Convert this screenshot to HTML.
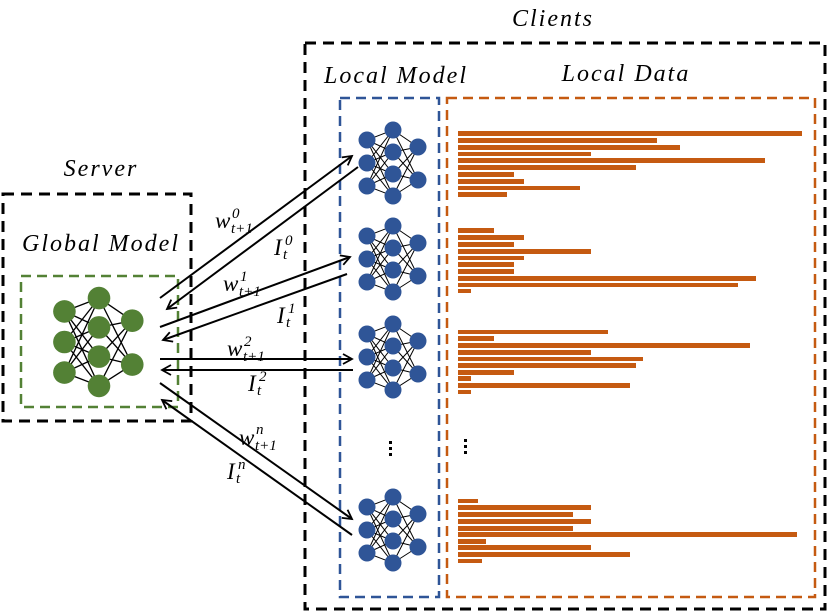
<!DOCTYPE html>
<html><head><meta charset="utf-8"><style>
html,body{margin:0;padding:0;background:#fff}
svg{display:block}
.lbl{font-family:"Liberation Serif",serif;font-style:italic;font-size:24px;letter-spacing:2px;fill:#000}
.m{font-family:"Liberation Serif",serif;font-style:italic;fill:#000}
</style></head><body>
<svg width="830" height="612" viewBox="0 0 830 612" xmlns="http://www.w3.org/2000/svg">
<defs>
<marker id="ah" markerWidth="12" markerHeight="12" refX="10" refY="6" orient="auto" markerUnits="userSpaceOnUse">
<path d="M1,1 L10,6 L1,11" fill="none" stroke="#000" stroke-width="1.8"/>
</marker>
<g id="net">
<g stroke="#000" stroke-width="1">
<line x1="-26" y1="-23" x2="0" y2="-33"/><line x1="-26" y1="-23" x2="0" y2="-11"/><line x1="-26" y1="-23" x2="0" y2="11"/><line x1="-26" y1="-23" x2="0" y2="33"/>
<line x1="-26" y1="0" x2="0" y2="-33"/><line x1="-26" y1="0" x2="0" y2="-11"/><line x1="-26" y1="0" x2="0" y2="11"/><line x1="-26" y1="0" x2="0" y2="33"/>
<line x1="-26" y1="23" x2="0" y2="-33"/><line x1="-26" y1="23" x2="0" y2="-11"/><line x1="-26" y1="23" x2="0" y2="11"/><line x1="-26" y1="23" x2="0" y2="33"/>
<line x1="0" y1="-33" x2="25" y2="-16"/><line x1="0" y1="-11" x2="25" y2="-16"/><line x1="0" y1="11" x2="25" y2="-16"/><line x1="0" y1="33" x2="25" y2="-16"/>
<line x1="0" y1="-33" x2="25" y2="17"/><line x1="0" y1="-11" x2="25" y2="17"/><line x1="0" y1="11" x2="25" y2="17"/><line x1="0" y1="33" x2="25" y2="17"/>
</g>
<circle cx="-26" cy="-23" r="8.5"/><circle cx="-26" cy="0" r="8.5"/><circle cx="-26" cy="23" r="8.5"/>
<circle cx="0" cy="-33" r="8.5"/><circle cx="0" cy="-11" r="8.5"/><circle cx="0" cy="11" r="8.5"/><circle cx="0" cy="33" r="8.5"/>
<circle cx="25" cy="-16" r="8.5"/><circle cx="25" cy="17" r="8.5"/>
</g>
</defs>

<rect x="3" y="194" width="188" height="227" fill="none" stroke="#000" stroke-width="3" stroke-dasharray="11,7"/>
<rect x="21" y="276" width="157" height="131" fill="none" stroke="#538135" stroke-width="2.5" stroke-dasharray="10,6"/>
<rect x="305" y="43" width="520" height="566" fill="none" stroke="#000" stroke-width="3" stroke-dasharray="11,7"/>
<rect x="340" y="98" width="99" height="499" fill="none" stroke="#2f5597" stroke-width="2.5" stroke-dasharray="10,6"/>
<rect x="447" y="98" width="368" height="499" fill="none" stroke="#c55a11" stroke-width="2.5" stroke-dasharray="10,6"/>

<text class="lbl" x="553" y="26" text-anchor="middle">Clients</text>
<text class="lbl" x="396" y="83" text-anchor="middle">Local Model</text>
<text class="lbl" x="626" y="81" text-anchor="middle">Local Data</text>
<text class="lbl" x="101" y="176" text-anchor="middle">Server</text>
<text class="lbl" x="101" y="251" text-anchor="middle">Global Model</text>

<g fill="#538135" transform="translate(99,342) scale(1.33)"><use href="#net"/></g>

<g fill="#2f5597">
<use href="#net" x="393" y="163"/>
<use href="#net" x="393" y="259"/>
<use href="#net" x="393" y="357"/>
<use href="#net" x="393" y="530"/>
</g>

<g stroke="#000" stroke-width="2" fill="none">
<line x1="160" y1="298" x2="352" y2="156" marker-end="url(#ah)"/>
<line x1="358" y1="167" x2="167" y2="309" marker-end="url(#ah)"/>
<line x1="160" y1="327" x2="350" y2="257" marker-end="url(#ah)"/>
<line x1="347" y1="274" x2="163" y2="340" marker-end="url(#ah)"/>
<line x1="160" y1="359" x2="352" y2="359" marker-end="url(#ah)"/>
<line x1="353" y1="370" x2="162" y2="370" marker-end="url(#ah)"/>
<line x1="160" y1="383" x2="352" y2="519" marker-end="url(#ah)"/>
<line x1="352" y1="535" x2="162" y2="400" marker-end="url(#ah)"/>
</g>

<g class="m">
<text x="215" y="228" font-size="23">w</text><text x="232" y="218" font-size="15">0</text><text x="231" y="233" font-size="15">t+1</text>
<text x="274" y="255" font-size="23">I</text><text x="285" y="245" font-size="15">0</text><text x="283" y="259" font-size="15">t</text>
<text x="223" y="291" font-size="23">w</text><text x="240" y="281" font-size="15">1</text><text x="239" y="296" font-size="15">t+1</text>
<text x="277" y="323" font-size="23">I</text><text x="288" y="313" font-size="15">1</text><text x="286" y="327" font-size="15">t</text>
<text x="227" y="356" font-size="23">w</text><text x="244" y="346" font-size="15">2</text><text x="243" y="361" font-size="15">t+1</text>
<text x="248" y="391" font-size="23">I</text><text x="259" y="381" font-size="15">2</text><text x="257" y="395" font-size="15">t</text>
<text x="239" y="445" font-size="23">w</text><text x="256" y="434" font-size="15">n</text><text x="255" y="450" font-size="15">t+1</text>
<text x="227" y="479" font-size="23">I</text><text x="238" y="469" font-size="15">n</text><text x="236" y="483" font-size="15">t</text>
</g>

<g fill="#000">
<rect x="389" y="441" width="3" height="3"/><rect x="389" y="447" width="3" height="3"/><rect x="389" y="453" width="3" height="3"/>
<rect x="464" y="439" width="3" height="3"/><rect x="464" y="445" width="3" height="3"/><rect x="464" y="451" width="3" height="3"/>
</g>

<g fill="#c55a11">
<rect x="458" y="131" width="344" height="5"/>
<rect x="458" y="138" width="199" height="5"/>
<rect x="458" y="145" width="222" height="5"/>
<rect x="458" y="152" width="133" height="4"/>
<rect x="458" y="158" width="307" height="5"/>
<rect x="458" y="165" width="178" height="5"/>
<rect x="458" y="172" width="56" height="5"/>
<rect x="458" y="179" width="66" height="5"/>
<rect x="458" y="186" width="122" height="4"/>
<rect x="458" y="192" width="49" height="5"/>
<rect x="458" y="228" width="36" height="5"/>
<rect x="458" y="235" width="66" height="5"/>
<rect x="458" y="242" width="56" height="5"/>
<rect x="458" y="249" width="133" height="5"/>
<rect x="458" y="256" width="66" height="4"/>
<rect x="458" y="262" width="56" height="5"/>
<rect x="458" y="269" width="56" height="5"/>
<rect x="458" y="276" width="298" height="5"/>
<rect x="458" y="283" width="280" height="4"/>
<rect x="458" y="289" width="13" height="4"/>
<rect x="458" y="330" width="150" height="4"/>
<rect x="458" y="336" width="36" height="5"/>
<rect x="458" y="343" width="292" height="5"/>
<rect x="458" y="350" width="133" height="5"/>
<rect x="458" y="357" width="185" height="4"/>
<rect x="458" y="363" width="178" height="5"/>
<rect x="458" y="370" width="56" height="5"/>
<rect x="458" y="376" width="13" height="5"/>
<rect x="458" y="383" width="172" height="5"/>
<rect x="458" y="390" width="13" height="4"/>
<rect x="458" y="499" width="20" height="4"/>
<rect x="458" y="505" width="133" height="5"/>
<rect x="458" y="512" width="115" height="5"/>
<rect x="458" y="519" width="133" height="5"/>
<rect x="458" y="526" width="115" height="5"/>
<rect x="458" y="532" width="339" height="5"/>
<rect x="458" y="539" width="28" height="5"/>
<rect x="458" y="545" width="133" height="5"/>
<rect x="458" y="552" width="172" height="5"/>
<rect x="458" y="559" width="24" height="4"/>
</g>
</svg>
</body></html>
